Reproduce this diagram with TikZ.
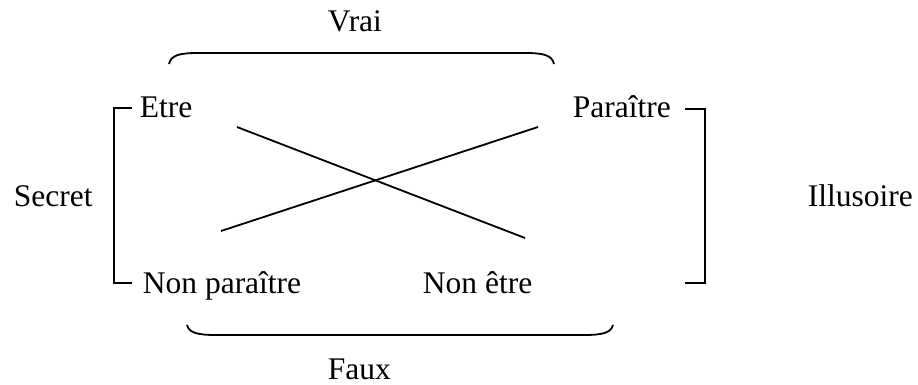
\documentclass[tikz,border=0pt]{standalone}
\usepackage{fontspec}
\setmainfont{Liberation Serif}
\usepackage{amsmath}

\begin{document}
\begin{tikzpicture}[x=1pt,y=-1pt,line width=1.8pt,
    word/.style={anchor=base west,inner sep=0pt}]
  \useasboundingbox (0,0) rectangle (918,385);
  \begin{scope}
    \fontsize{31.5}{36}\selectfont
    \node[word] (etre) at (139,118) {Etre};
    \node[word] (paraitre) at (572,118) {Paraître};
    \node[word] (nonparaitre) at (142,293) {Non paraître};
    \node[word] (nonetre) at (422,293) {Non être};
    \node[word] (secret) at (13,206) {Secret};
    \node[word] (illusoire) at (807,206) {Illusoire};
    \node[word] (vrai) at (327,32) {Vrai};
    \node[word] (faux) at (327,379) {Faux};

    % ends of the two crossing lines
    \coordinate (ea) at (237,127);
    \coordinate (eb) at (525,238);
    \coordinate (pa) at (538,127);
    \coordinate (pb) at (221,231);
    \draw (ea) -- (eb);
    \draw (pa) -- (pb);

    % brackets
    \coordinate (sl) at (114,108);
    \coordinate (sr) at (705,109);
    \draw (132,108) -- (sl) -- (114,283) -- (132,283);
    \draw (685,109) -- (sr) -- (705,283) -- (685,283);

    % braces
    \draw (169,64) .. controls (171,55) and (180,53) .. (198,53) -- (525,53)
      .. controls (543,53) and (552,55) .. (554,64);
    \draw (187,325) .. controls (189,333) and (198,335) .. (216,335) -- (584,335)
      .. controls (602,335) and (611,333) .. (613,325);
  \end{scope}
\end{tikzpicture}
\end{document}
